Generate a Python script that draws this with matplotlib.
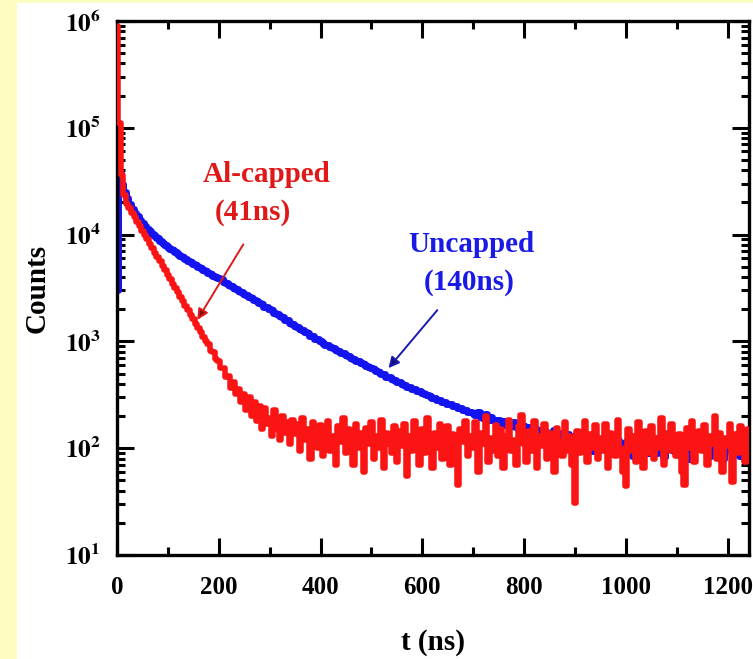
import numpy as np
import matplotlib
matplotlib.use("Agg")
import matplotlib.pyplot as plt
from matplotlib.patches import Rectangle
from matplotlib.ticker import LogLocator, MultipleLocator, NullFormatter

plt.rcParams['font.family'] = ['Liberation Serif', 'DejaVu Serif']
plt.rcParams['font.weight'] = 'bold'
plt.rcParams['mathtext.fontset'] = 'stix'

# time channels, 5 ns wide
t = np.arange(0, 1250, 5)

# Al-capped sample (41 ns)
al_capped = [
    900000, 110000, 36000, 23500, 19400, 17600, 16000, 14500, 13200, 12000,
    10900, 9930, 9020, 8200, 7450, 6780, 6150, 5600, 5090, 4620,
    4200, 3820, 3470, 3160, 2870, 2610, 2370, 2150, 1960, 1780,
    1620, 1470, 1340, 1230, 1090, 1010, 940, 820, 790, 680,
    650, 560, 560, 460, 470, 370, 420, 320, 360, 270,
    320, 230, 300, 200, 270, 180, 250, 150, 240, 170,
    190, 130, 230, 150, 120, 200, 140, 175, 110, 185,
    135, 170, 95, 190, 120, 150, 80, 175, 130, 100,
    165, 85, 145, 180, 95, 130, 70, 160, 115, 190,
    90, 150, 120, 70, 170, 100, 140, 60, 155, 110,
    175, 80, 130, 100, 185, 65, 140, 110, 90, 160,
    75, 145, 105, 170, 55, 130, 95, 180, 115, 70,
    150, 90, 190, 110, 65, 140, 100, 170, 80, 125,
    160, 70, 135, 95, 45, 150, 115, 180, 85, 130,
    100, 175, 60, 140, 110, 200, 75, 125, 95, 165,
    85, 150, 65, 130, 185, 95, 120, 70, 160, 205,
    110, 75, 145, 95, 180, 65, 130, 105, 170, 80,
    140, 100, 60, 155, 115, 85, 175, 95, 130, 70,
    31, 145, 90, 120, 180, 75, 135, 100, 165, 80,
    125, 95, 170, 65, 140, 110, 85, 185, 100, 60,
    44, 150, 95, 130, 75, 175, 110, 65, 145, 90,
    160, 80, 125, 100, 190, 70, 140, 95, 170, 115,
    85, 135, 60, 45, 155, 100, 180, 75, 120, 145,
    95, 165, 70, 130, 110, 200, 80, 140, 60, 125,
    105, 170, 48, 135, 90, 160, 115, 75, 150, 100,
]

# uncapped sample (140 ns)
uncapped = [
    3000, 38000, 30000, 25000, 22000, 19500, 17500, 16000, 14800, 13800,
    12900, 12100, 11400, 10800, 10200, 9700, 9200, 8800, 8400, 8000,
    7650, 7380, 7110, 6860, 6610, 6370, 6150, 5930, 5710, 5510,
    5300, 5140, 4980, 4830, 4680, 4540, 4400, 4270, 4140, 4020,
    3900, 3820, 3620, 3560, 3390, 3330, 3180, 3120, 2970, 2920,
    2800, 2730, 2600, 2550, 2430, 2390, 2270, 2230, 2120, 2090,
    2000, 1950, 1850, 1820, 1720, 1690, 1600, 1570, 1490, 1460,
    1400, 1365, 1300, 1275, 1215, 1195, 1135, 1115, 1060, 1045,
    1000, 975, 935, 920, 880, 865, 830, 815, 785, 775,
    750, 735, 700, 690, 660, 650, 625, 615, 590, 580,
    560, 550, 525, 520, 495, 490, 465, 462, 440, 436,
    420, 414, 396, 394, 376, 375, 358, 357, 342, 340,
    330, 325, 312, 310, 297, 296, 284, 282, 270, 269,
    260, 257, 247, 247, 237, 237, 228, 228, 220, 220,
    215, 205, 220, 198, 190, 208, 185, 195, 182, 176,
    185, 170, 180, 165, 172, 160, 175, 158, 150, 165,
    160, 150, 158, 142, 155, 138, 148, 135, 145, 140,
    140, 125, 148, 130, 118, 140, 122, 135, 112, 130,
    127, 108, 135, 120, 100, 128, 115, 95, 125, 112,
    120, 98, 130, 102, 118, 125, 88, 120, 110, 100,
    115, 95, 125, 85, 112, 120, 92, 128, 105, 90,
    112, 125, 90, 115, 100, 82, 120, 105, 128, 95,
    108, 118, 88, 125, 110, 80, 120, 100, 112, 130,
    98, 115, 105, 85, 125, 108, 92, 120, 80, 112,
    105, 122, 90, 115, 108, 85, 125, 98, 115, 80,
]

fig = plt.figure(figsize=(7.53, 6.59), dpi=100, facecolor='#fdfdc2')
fig.patches.append(Rectangle((17 / 753, 0), 1 - 17 / 753, 1 - 3 / 659,
                             transform=fig.transFigure, facecolor='white',
                             edgecolor='none', zorder=-10))

ax = fig.add_axes([117 / 753, 1 - 555 / 659, 632 / 753, 534 / 659])
ax.set_facecolor('white')

ax.plot(t, uncapped, color='#1414f0', lw=5.0, drawstyle='steps-mid', zorder=2)
ax.plot(t, al_capped, color='#fa1414', lw=4.0, drawstyle='steps-mid', zorder=3)

ax.set_yscale('log')
ax.set_xlim(0, 1242)
ax.set_ylim(10, 1e6)

ax.xaxis.set_major_locator(MultipleLocator(200))
ax.xaxis.set_minor_locator(MultipleLocator(100))
ax.yaxis.set_minor_locator(LogLocator(base=10, subs=np.arange(2, 10), numticks=20))
ax.yaxis.set_minor_formatter(NullFormatter())
ax.set_yticks([10, 1e2, 1e3, 1e4, 1e5, 1e6])
ax.set_yticklabels([r'$\mathbf{10^{%d}}$' % k for k in range(1, 7)])

ax.tick_params(which='both', direction='in', top=True, right=True, width=2.2)
ax.tick_params(which='major', length=12, labelsize=18)
ax.tick_params(which='minor', length=6)
ax.tick_params(axis='x', pad=15)
ax.tick_params(axis='y', pad=12)
for s in ax.spines.values():
    s.set_linewidth(2.4)

ax.set_xlabel('t (ns)', fontsize=21, fontweight='bold', labelpad=22)
ax.set_ylabel('Counts', fontsize=21, fontweight='bold', labelpad=10)

ax.text(295, 1e4 * 10 ** ((234.6 - 175) / 106.8), 'Al-capped', color='#e01818',
        fontsize=21, fontweight='bold', ha='center', va='center')
ax.text(267, 1e4 * 10 ** ((234.6 - 213) / 106.8), '(41ns)', color='#e01818',
        fontsize=21, fontweight='bold', ha='center', va='center')
ax.text(697, 1e4 * 10 ** ((234.6 - 245) / 106.8), 'Uncapped', color='#1a1ae6',
        fontsize=21, fontweight='bold', ha='center', va='center')
ax.text(692, 1e4 * 10 ** ((234.6 - 283) / 106.8), '(140ns)', color='#1a1ae6',
        fontsize=21, fontweight='bold', ha='center', va='center')

# pointer arrows onto each decay curve
ax.annotate('', xy=(155, 1510), xytext=(251, 1e4 * 10 ** ((234.6 - 242) / 106.8)),
            arrowprops=dict(arrowstyle='-|>', color='#e01818', lw=1.4,
                            mutation_scale=16, fc='#801010'))
ax.annotate('', xy=(530, 537), xytext=(633, 1e4 * 10 ** ((234.6 - 308) / 106.8)),
            arrowprops=dict(arrowstyle='-|>', color='#1a1ab0', lw=1.4,
                            mutation_scale=16, fc='#101070'))

fig.savefig('out.png', dpi=100, facecolor=fig.get_facecolor())
